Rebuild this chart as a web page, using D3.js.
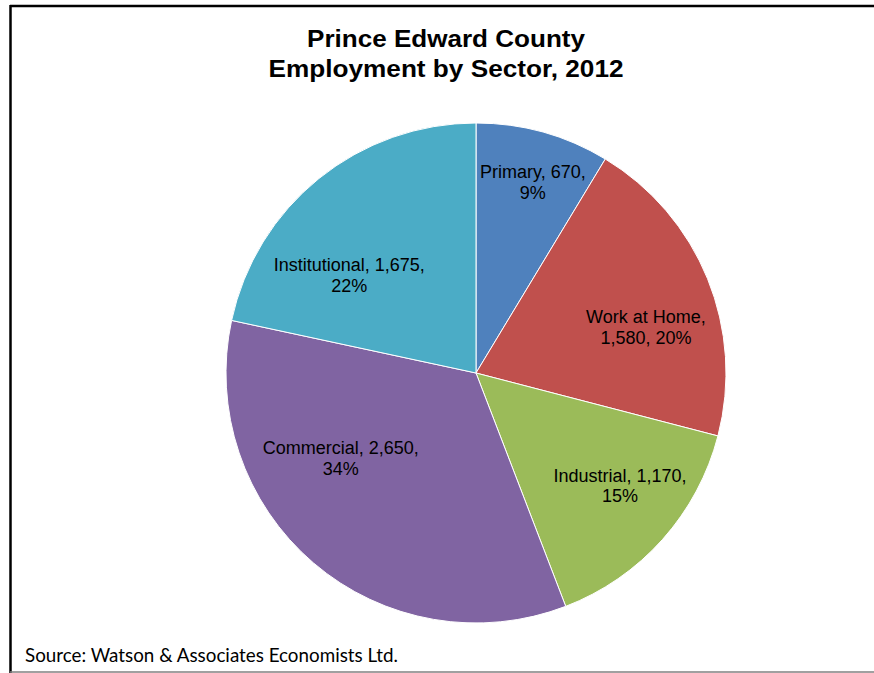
<!DOCTYPE html>
<html>
<head>
<meta charset="utf-8">
<script src="https://cdn.jsdelivr.net/npm/d3@7"></script>
<style>
  html, body { margin: 0; padding: 0; background: #fff; }
  svg { display: block; }
</style>
</head>
<body>
<svg id="chart" width="874" height="673"></svg>
<script>
// ---- data ----
const categories = ["Primary", "Work at Home", "Industrial", "Commercial", "Institutional"];
const values = [670, 1580, 1170, 2650, 1675];
const colors = ["#4F81BD", "#C0504D", "#9BBB59", "#8064A2", "#4BACC6"];
const titleLines = ["Prince Edward County", "Employment by Sector, 2012"];
const sourceText = "Source: Watson & Associates Economists Ltd.";

// ---- layout (label placement, polar: angle in degrees clockwise from 12 o'clock, radius in px) ----
const labelPolar = [[16.6, 199], [74.9, 176], [128.1, 183], [237.7, 160], [307.6, 160]];
// how label text breaks into two lines (number of parts on first line)
const labelSplit = [2, 1, 2, 2, 2];

const W = 874, H = 673;
const cx = 476, cy = 373, R = 250;
const svg = d3.select("#chart");

// frame
svg.append("rect").attr("x", 0).attr("y", 0).attr("width", W).attr("height", H).attr("fill", "#fff");
svg.append("line").attr("x1", 10).attr("x2", W).attr("y1", 6).attr("y2", 6)
  .attr("stroke", "#000").attr("stroke-width", 2.5);
svg.append("line").attr("x1", 10.5).attr("x2", 10.5).attr("y1", 5).attr("y2", H)
  .attr("stroke", "#000").attr("stroke-width", 2.5);
svg.append("line").attr("x1", 10).attr("x2", W).attr("y1", 672).attr("y2", 672)
  .attr("stroke", "#808080").attr("stroke-width", 1.5);

// title
const titleY = [47, 77];
const titleW = [278, 355];
svg.selectAll("text.title").data(titleLines).join("text")
  .attr("class", "title")
  .attr("x", 446).attr("y", (d, i) => titleY[i])
  .attr("text-anchor", "middle")
  .attr("font-family", "Liberation Sans, Arial, sans-serif")
  .attr("font-weight", "bold").attr("font-size", 23)
  .attr("textLength", (d, i) => titleW[i]).attr("lengthAdjust", "spacingAndGlyphs")
  .attr("fill", "#000")
  .text(d => d);

// pie
const total = d3.sum(values);
const pie = d3.pie().sort(null).value(d => d.value);
const arcs = pie(categories.map((c, i) => ({ name: c, value: values[i], color: colors[i] })));
const arc = d3.arc().innerRadius(0).outerRadius(R);

const g = svg.append("g").attr("transform", `translate(${cx},${cy})`);
g.selectAll("path").data(arcs).join("path")
  .attr("d", arc)
  .attr("fill", d => d.data.color)
  .attr("stroke", "#fff").attr("stroke-width", 1)
  .attr("stroke-linejoin", "round");

// labels
const fmt = d3.format(",");
const labels = g.selectAll("text.lbl").data(arcs).join("text")
  .attr("class", "lbl")
  .attr("text-anchor", "middle")
  .attr("font-family", "Liberation Sans, Arial, sans-serif")
  .attr("font-size", 18)
  .attr("fill", "#000")
  .attr("transform", (d, i) => {
    const a = labelPolar[i][0] * Math.PI / 180, r = labelPolar[i][1];
    return `translate(${r * Math.sin(a)},${-r * Math.cos(a)})`;
  });
labels.each(function (d, i) {
  const parts = [d.data.name, fmt(d.data.value), Math.round(d.data.value / total * 100) + "%"];
  const k = labelSplit[i];
  const l1 = parts.slice(0, k).join(", ") + ",";
  const l2 = parts.slice(k).join(", ");
  const t = d3.select(this);
  t.append("tspan").attr("x", 0).attr("y", -4).text(l1);
  t.append("tspan").attr("x", 0).attr("y", 16.5).text(l2);
});

// source
svg.append("text")
  .attr("x", 25).attr("y", 662)
  .attr("font-family", "Lato, 'Open Sans', sans-serif")
  .attr("font-size", 20)
  .attr("textLength", 373).attr("lengthAdjust", "spacingAndGlyphs")
  .attr("fill", "#000")
  .text(sourceText);
</script>
</body>
</html>
